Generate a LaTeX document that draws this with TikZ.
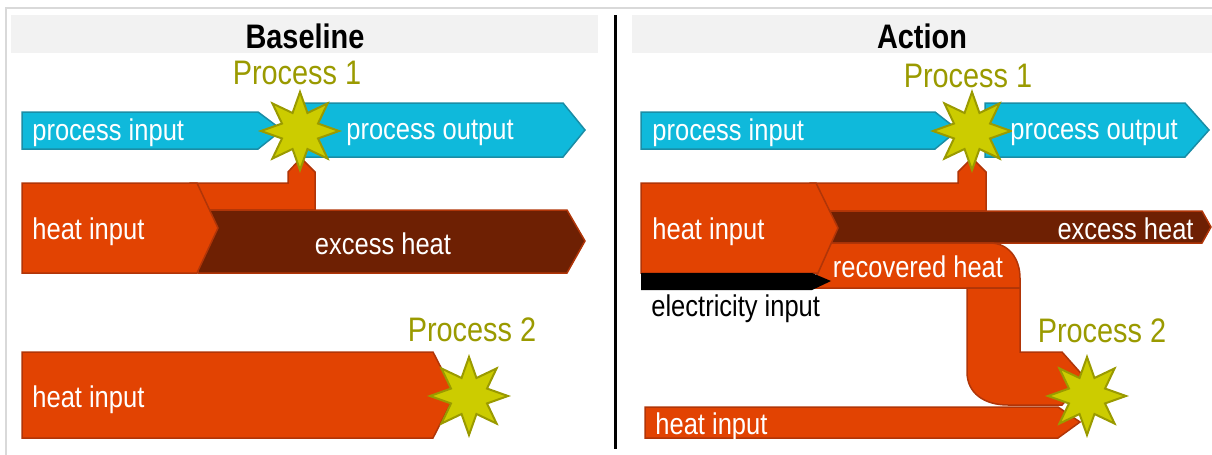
\documentclass[tikz,border=0pt]{standalone}
\usepackage{fontspec}
\setmainfont[FakeStretch=0.85]{Liberation Sans}
\usetikzlibrary{shapes.geometric}
\definecolor{procblue}{HTML}{0FB9DB}
\definecolor{procedge}{HTML}{1A8DA6}
\definecolor{heatfill}{HTML}{E24302}
\definecolor{heatedge}{HTML}{B03508}
\definecolor{excessfill}{HTML}{6E2003}
\definecolor{sparkfill}{HTML}{CCCC00}
\definecolor{sparkedge}{HTML}{9A9A00}
\definecolor{bandgray}{HTML}{F2F2F2}
\definecolor{framegray}{HTML}{D9D9D9}
\tikzset{
  flow/.style       = {line width=0.75pt, line join=miter},
  procflow/.style   = {flow, fill=procblue, draw=procedge},
  heatflow/.style   = {flow, fill=heatfill, draw=heatedge},
  excessflow/.style = {flow, fill=excessfill, draw=heatedge},
  spark/.style      = {star, star points=8, star point ratio=2,
                       minimum size=39pt, inner sep=0pt,
                       fill=sparkfill, draw=sparkedge, line width=1pt},
  flowtext/.style   = {text=white, inner sep=0pt,
                       font=\fontsize{15}{18}\selectfont},
  proctext/.style   = {text=sparkedge, inner sep=0pt,
                       font=\fontsize{17}{20}\selectfont},
  paneltitle/.style = {inner sep=0pt, font=\fontsize{17}{20}\selectfont\bfseries}
}

\begin{document}
\begin{tikzpicture}[x=0.5pt, y=-0.5pt]
  \useasboundingbox (0,0) rectangle (1212,455);

  % frame, title bands and divider
  \draw[framegray, line width=1pt] (6,455) |- (1212,8);
  \fill[bandgray] (11,15) rectangle (598,53);
  \fill[bandgray] (632,15) rectangle (1212,53);
  \node[paneltitle] (base) at (305,36) {Baseline};
  \node[paneltitle] (act) at (922,36) {Action};
  \draw[line width=1.5pt] (615,15) -- (615,449);

% Baseline panel, flows first
  \filldraw[procflow] (22,112) -- (258,112) -- (282,130) -- (258,149) -- (22,149) -- cycle;
  \filldraw[procflow] (300,103) -- (563,103) -- (585,130) -- (563,157) -- (300,157) -- cycle;
  \filldraw[heatflow] (190,183) -- (288,183) -- (288,172) -- (301,158) -- (315,172)
    -- (315,210) -- (190,210) -- cycle;
  \filldraw[excessflow] (198,210) -- (567,210) -- (585,241) -- (567,273) -- (198,273) -- cycle;
  \filldraw[heatflow] (22,183) -- (197,183) -- (218,228) -- (197,273) -- (22,273) -- cycle;
  \filldraw[heatflow] (22,352) -- (433,352) -- (455,395) -- (433,438) -- (22,438) -- cycle;

% Action panel, flows first
  \filldraw[procflow] (641,112) -- (935,112) -- (958,130) -- (935,149) -- (641,149) -- cycle;
  \filldraw[procflow] (985,103) -- (1185,103) -- (1209,130) -- (1185,157) -- (985,157) -- cycle;
  \filldraw[heatflow] (810,183) -- (958,183) -- (958,172) -- (972,158) -- (986,172)
    -- (986,211) -- (810,211) -- cycle;
  \filldraw[excessflow] (820,211) -- (1202,211) -- (1211,227) -- (1202,243) -- (820,243) -- cycle;
  \filldraw[heatflow] (831,243) -- (990,243) .. controls (1008,243) and (1020,258) .. (1020,278)
    -- (1020,288) -- (811,288) -- cycle;
  \filldraw[heatflow] (967,288) -- (1020,288) -- (1020,352) -- (1062,352) -- (1086,379)
    -- (1062,405) -- (1008,405) .. controls (984,405) and (967,393) .. (967,372) -- cycle;
  \filldraw[heatflow] (645,407) -- (1058,407) -- (1080,422) -- (1058,438) -- (645,438) -- cycle;
  \filldraw[heatflow] (641,183) -- (816,183) -- (838,228) -- (818,273) -- (641,273) -- cycle;
  \fill (641,273) -- (812,273) -- (831,281) -- (812,290) -- (641,290) -- cycle;

% the processes
  \foreach \name/\pos in {p1base/{(300,131)}, p2base/{(469,396)},
                          p1act/{(972,131)}, p2act/{(1087,396)}}
    \node[spark] (\name) at \pos {};

  \node[proctext] (t1base) at (297,73) {Process 1};
  \node[proctext] (t2base) at (472,330) {Process 2};
  \node[proctext] (t1act) at (968,76) {Process 1};
  \node[proctext] (t2act) at (1102,331) {Process 2};

% flow labels
  \node[flowtext, anchor=west] (pinbase) at (32,133) {process input};
  \node[flowtext, anchor=west] (poutbase) at (346,133) {process output};
  \node[flowtext, anchor=west] (hinbase) at (32,232) {heat input};
  \node[flowtext] (exbase) at (383,244) {excess heat};
  \node[flowtext, anchor=west] (hlowbase) at (32,400) {heat input};

  \node[flowtext, anchor=west] (pinact) at (652,133) {process input};
  \node[flowtext, anchor=west] (poutact) at (1010,133) {process output};
  \node[flowtext, anchor=west] (hinact) at (652,232) {heat input};
  \node[flowtext, anchor=east] (exact) at (1194,229) {excess heat};
  \node[flowtext] (recact) at (918,267) {recovered heat};
  \node[flowtext, text=black, anchor=west] (elact) at (651,309) {electricity input};
  \node[flowtext, anchor=west] (hlowact) at (655,427) {heat input};
\end{tikzpicture}
\end{document}
